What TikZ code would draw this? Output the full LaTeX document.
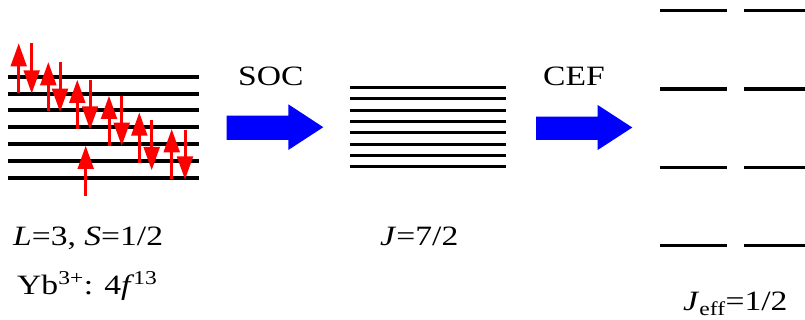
\documentclass[tikz,border=0pt]{standalone}
\usepackage{fontspec}
\setmainfont[FakeStretch=1.2]{Liberation Serif}
\begin{document}
\begin{tikzpicture}[x=1pt,y=-1pt,
  lvlA/.style={line width=4pt},
  lvlB/.style={line width=3pt},
  lvlC/.style={line width=3.5pt},
  shaft/.style={red, line width=3pt},
  head/.style={fill=red},
  bigarrow/.style={fill={rgb,255:red,0;green,0;blue,255}},
  lbl/.style={anchor=base west, inner sep=0pt, font=\fontsize{28}{32}\selectfont}]
\useasboundingbox (0,0) rectangle (805,320);
% left levels
\foreach \i in {0,...,6} {
  \draw[lvlA] (8,76.8+16.8*\i) -- (199,76.8+16.8*\i);
}
% spins: up arrows (x, bottom, top) and down arrows (x, top, tip)
\foreach \xu/\yb/\yt/\xd/\ydt/\ydb in {
  18.7/92.7/43.5/31.7/43.5/93.3,
  48.3/111/62.3/60/62.3/111.7,
  77.3/129.3/80/90/80/129.3,
  109/145.7/96/121.7/96/145.7,
  139.3/162.7/112.7/151.7/120/170,
  171.7/179.3/129.3/185/130/179.3,
  85.7/195.7/146/-100/0/0} {
  \draw[shaft] (\xu,\yb) -- (\xu,\yt+20);
  \fill[head] (\xu-8.3,\yt+23) -- (\xu,\yt) -- (\xu+8.3,\yt+23) -- cycle;
  \draw[shaft] (\xd,\ydt) -- (\xd,\ydb-20);
  \fill[head] (\xd-8.3,\ydb-23) -- (\xd,\ydb) -- (\xd+8.3,\ydb-23) -- cycle;
}
% middle levels
\foreach \i in {0,...,7} {
  \draw[lvlB] (350,87.7+11.28*\i) -- (505.7,87.7+11.28*\i);
}
% right levels
\foreach \i in {0,...,3} {
  \draw[lvlC] (660,10.7+78.3*\i) -- (726.7,10.7+78.3*\i);
  \draw[lvlC] (744,10.7+78.3*\i) -- (805,10.7+78.3*\i);
}
% big arrows
\fill[bigarrow] (226.7,115.7) -- (288.3,115.7) -- (288.3,104.3) -- (323.3,127.2)
  -- (288.3,150) -- (288.3,140) -- (226.7,140) -- cycle;
\fill[bigarrow] (536,116.7) -- (597.7,116.7) -- (597.7,105) -- (632.3,127.5)
  -- (597.7,150) -- (597.7,140) -- (536,140) -- cycle;
% labels
\node[lbl] (soc) at (238,86) {SOC};
\node[lbl] (cef) at (543,86) {CEF};
\node[lbl] (ls) at (13,246) {\textit{L}=3, \textit{S}=1/2};
\node[lbl] (j) at (380,246) {\textit{J}=7/2};
\node[lbl] (yb) at (17,294) {Yb\textsuperscript{3+}: 4\textit{f}\kern-1pt\textsuperscript{13}};
\node[lbl] (jeff) at (683,310) {\textit{J}\textsubscript{eff}=1/2};
\end{tikzpicture}
\end{document}
